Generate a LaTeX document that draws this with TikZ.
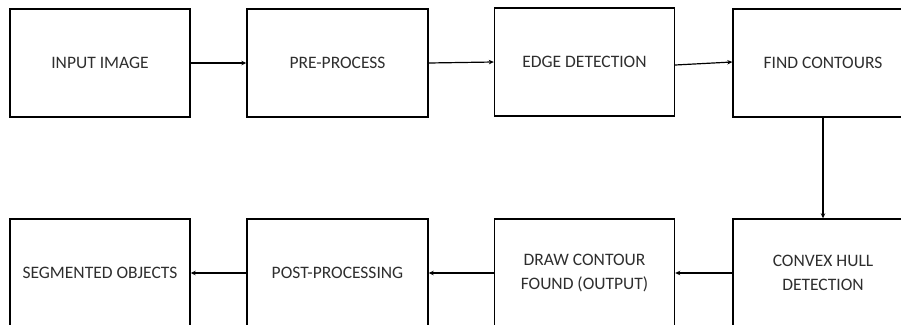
\documentclass[tikz,border=0pt]{standalone}
\usepackage{fontspec}
\setmainfont{Carlito}
\usetikzlibrary{arrows.meta}
\definecolor{txt}{HTML}{2E2E2E}
\begin{document}
\begin{tikzpicture}[x=1pt,y=-1pt,
  stagebox/.style={draw=black, line width=1.4pt, minimum width=180pt, minimum height=108pt,
    inner sep=0pt, align=center, font=\fontsize{17.5}{24}\selectfont, text=txt},
  flow/.style={draw=black, line width=1.2pt, -{Stealth[length=5pt,width=4.5pt]}}]
\useasboundingbox (0,0) rectangle (901,324);
\clip (0,0) rectangle (901,324);
\node[stagebox] (in)   at (100,63)   {INPUT IMAGE};
\node[stagebox, minimum width=181pt] (pre)  at (337.5,63) {PRE-PROCESS};
\node[stagebox] (edge) at (584.5,62) {EDGE DETECTION};
\node[stagebox] (find) at (823,63)   {FIND CONTOURS};
\node[stagebox] (seg)  at (100,273)  {SEGMENTED OBJECTS};
\node[stagebox, minimum width=181pt] (post) at (337.5,273) {POST-PROCESSING};
\node[stagebox] (draw) at (584.5,273) {DRAW CONTOUR\\FOUND (OUTPUT)};
\node[stagebox] (hull) at (823,273)  {CONVEX HULL\\DETECTION};
\draw[flow] (in.east) -- (pre.west);
\draw[flow] (pre.east) -- (edge.west);
\draw[flow] ([yshift=-3pt]edge.east) -- ([yshift=1pt]find.west);
\draw[flow] (find.south) -- (hull.north);
\draw[flow] (hull.west) -- (draw.east);
\draw[flow] (draw.west) -- (post.east);
\draw[flow] (post.west) -- (seg.east);
\end{tikzpicture}
\end{document}
